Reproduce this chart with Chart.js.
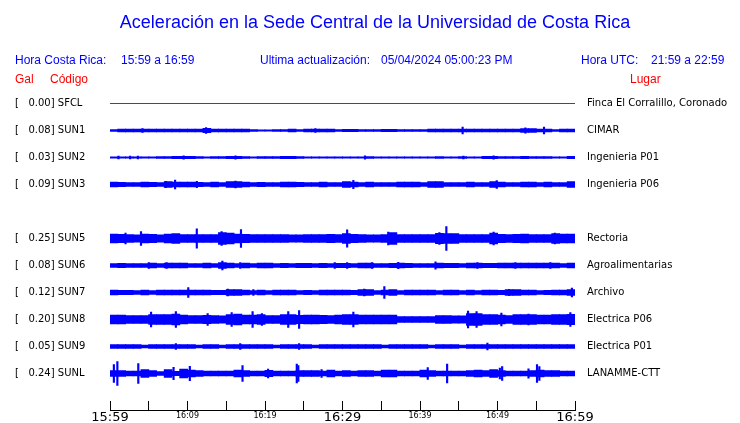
<!DOCTYPE html>
<html>
<head>
<meta charset="utf-8">
<script src="https://cdn.jsdelivr.net/npm/chart.js@4.4.0/dist/chart.umd.min.js"></script>
<style>html,body{margin:0;background:#fff}</style>
</head>
<body>
<canvas id="myChart" width="740" height="423"></canvas>
<script>
// stations, top to bottom (row 4 is empty in the original plot)
const codes  = ['SFCL', 'SUN1', 'SUN2', 'SUN3', '', 'SUN5', 'SUN6', 'SUN7', 'SUN8', 'SUN9', 'SUNL'];
const gal    = ['0.00', '0.08', '0.03', '0.09', '', '0.25', '0.08', '0.12', '0.20', '0.05', '0.24'];
const places = ['Finca El Corralillo, Coronado', 'CIMAR', 'Ingenieria P01', 'Ingenieria P06', '',
  'Rectoria', 'Agroalimentarias', 'Archivo', 'Electrica P06', 'Electrica P01', 'LANAMME-CTT'];

// x axis: minutes after 15:59, a tick every 5 minutes
const tickLabels = ['15:59', '', '16:09', '', '16:19', '', '16:29', '', '16:39', '', '16:49', '', '16:59'];

// SFCL is flat for the whole hour
const sfcl = [0, 0];

// trace envelopes: half amplitude per minute (0..59), plus narrow peaks [minute, half amplitude]
const sun1 = [0.8,1.3,1.3,1.3,1.5,1.3,1.3,1.3,1.3,1.3, 1.3,1.3,2.2,1.5,1.3,1.5,1.3,1.3,1.0,0.7,
  0.7,1.0,1.0,1.3,1.0,1.3,1.5,1.3,1.3,1.0, 1.2,1.2,0.8,0.8,0.8,1.2,1.2,1.0,1.0,1.0,
  1.0,1.3,1.3,1.3,1.3,1.3,1.3,1.3,1.3,1.3, 1.3,1.3,1.3,2.0,2.0,1.3,1.3,1.0,1.5,1.5];
const sun1Peaks = [[4.2,2.0],[12.4,2.8],[26.5,2.0],[45.5,3.3],[53.6,2.6],[56.0,3.5]];

const sun2 = [0.6,0.6,0.6,0.6,0.6,0.6,1.0,1.0,1.2,1.2, 1.2,1.0,0.6,1.0,1.0,1.2,1.2,1.0,0.6,1.0,
  1.0,1.0,1.2,1.2,0.8,0.6,0.6,0.6,0.6,0.6, 0.6,0.6,0.6,0.8,0.6,0.6,0.6,0.6,0.6,0.6,
  0.6,0.6,1.0,0.6,0.6,0.8,0.6,0.6,1.2,1.2, 1.0,0.8,1.0,1.2,1.0,0.8,1.0,0.6,0.6,1.2];
const sun2Peaks = [[1.1,1.4],[2.6,1.4],[3.6,1.3],[9.5,1.6],[16.2,1.6],[32.9,1.6],[45.6,1.4],[49.5,1.6]];

const sun3 = [2.5,2.2,1.8,1.8,2.5,2.2,2.0,2.8,2.5,2.5, 2.5,2.2,1.8,2.5,1.8,2.8,2.8,2.5,1.8,2.2,
  1.8,1.8,2.5,2.5,2.2,1.8,1.8,2.5,1.8,1.8, 2.8,2.5,1.8,2.5,1.8,1.8,1.8,2.5,2.5,2.5,
  1.8,2.8,2.8,2.0,1.8,1.8,2.5,1.8,2.0,2.8, 2.5,1.8,1.8,2.5,2.5,1.8,2.5,2.0,1.8,2.8];
const sun3Peaks = [[7.2,3.2],[8.4,4.5],[11.2,3.2],[16.2,3.3],[31.4,4.2],[49.9,4.0]];

const sun5 = [4.5,4.2,4.0,3.7,4.5,4.2,3.7,4.5,5.0,4.0, 3.8,3.8,3.8,3.8,6.0,5.5,4.5,4.2,3.8,3.8,
  3.8,3.8,4.0,3.6,3.6,3.8,4.0,4.0,4.2,4.0, 4.8,4.2,3.8,3.6,3.6,3.8,6.0,4.0,3.8,3.8,
  3.8,4.0,5.2,5.0,4.8,3.8,3.8,4.0,3.8,5.5, 4.2,4.0,4.2,4.5,4.0,4.0,4.0,5.0,4.5,4.5];
const sun5Peaks = [[2.0,5.5],[4.0,7.0],[11.2,9.7],[14.4,6.8],[16.9,9.0],[30.6,8.7],[35.9,6.5],
  [42.5,6.0],[43.4,11.8],[49.5,6.5],[57.4,5.5]];

const sun6 = [1.8,2.2,1.8,1.8,1.8,2.3,1.8,2.3,2.3,2.3, 1.8,1.8,2.3,1.8,2.8,2.3,1.8,2.3,1.8,2.3,
  2.3,1.8,2.2,1.8,2.2,2.2,1.8,2.2,1.8,2.2, 2.2,1.8,2.3,2.3,1.8,1.8,2.2,2.5,2.2,1.8,
  1.8,1.8,2.5,2.2,2.2,1.8,2.5,2.5,2.2,2.2, 2.5,2.5,2.5,2.3,2.3,2.3,2.5,2.5,1.8,2.3];
const sun6Peaks = [[5.0,2.8],[7.3,3.0],[14.5,4.3],[16.8,3.0],[29.0,2.8],[30.6,2.8],[33.8,2.8],
  [37.2,3.2],[42.0,3.6],[47.4,3.0],[52.3,3.0],[56.8,2.8]];

const sun7 = [2.5,2.2,2.2,2.0,2.5,1.8,2.5,2.5,2.5,2.5, 2.5,2.5,2.5,2.2,2.2,3.0,2.8,2.5,2.0,2.5,
  1.8,2.5,2.5,2.5,2.0,2.2,2.0,2.5,2.5,2.5, 2.5,2.2,3.0,3.0,2.0,2.5,2.8,2.0,2.5,2.5,
  2.5,2.5,2.0,2.5,2.5,2.0,2.5,2.0,2.5,2.5, 2.2,3.0,2.8,2.5,2.5,2.0,2.2,2.5,2.5,2.8];
const sun7Peaks = [[10.1,4.8],[15.2,3.3],[18.5,3.0],[32.8,3.5],[35.4,5.8],[51.5,3.2],[59.6,4.5]];

const sun8 = [4.5,4.5,4.0,4.0,4.0,4.8,4.8,5.0,5.5,4.5, 4.0,4.0,4.2,4.0,3.7,5.0,5.5,4.5,4.5,4.8,
  4.0,4.0,5.0,5.0,4.2,4.5,4.5,4.2,4.0,4.5, 5.0,4.8,4.5,4.5,4.5,4.3,4.3,3.0,3.0,3.0,
  3.0,3.0,4.0,4.0,3.7,3.7,6.0,6.0,5.0,5.0, 4.5,4.0,5.0,5.0,4.8,4.5,4.5,5.0,5.0,5.2];
const sun8Peaks = [[5.3,7.3],[8.5,8.0],[12.6,5.8],[15.7,6.8],[18.4,8.0],[19.6,6.0],[23.0,8.0],
  [24.4,9.0],[31.4,7.5],[46.2,8.3],[47.3,7.8],[50.5,6.5],[54.0,5.5],[59.4,7.0]];

const sun9 = [1.8,1.8,1.8,1.8,1.5,1.8,1.8,1.8,2.0,1.8, 1.8,1.5,1.8,1.8,1.5,1.8,1.8,1.8,1.8,1.8,
  1.8,1.5,1.8,1.8,1.8,1.8,1.5,1.8,1.8,1.8, 1.8,1.8,1.8,1.8,1.8,1.5,1.8,1.8,1.8,1.8,
  1.8,1.5,1.8,1.8,1.8,1.5,1.8,1.8,1.8,1.8, 1.8,1.8,1.8,1.8,1.8,1.8,1.8,1.8,1.8,1.8];
const sun9Peaks = [[8.5,3.0],[16.8,3.0],[24.4,3.0],[48.7,3.5]];

const sunl = [3.0,3.0,2.5,2.5,4.0,3.0,2.0,4.0,2.2,4.5, 3.5,3.0,2.5,2.3,2.3,2.3,3.5,3.0,2.3,2.3,
  3.2,2.5,2.5,2.5,3.0,3.0,3.0,2.5,3.5,2.5, 3.0,2.5,3.0,3.0,2.5,3.5,3.5,2.5,2.5,2.5,
  3.5,3.0,2.5,2.5,2.5,2.5,3.0,3.5,3.0,4.0, 3.0,2.5,2.5,2.5,3.0,3.5,3.0,3.0,2.5,2.5];
const sunlPeaks = [[0.5,9.0],[0.95,12.0],[3.65,10.0],[8.2,6.2],[10.3,7.2],[17.1,7.8],[20.4,4.5],
  [24.1,9.3],[24.3,8.0],[27.3,4.0],[41.0,6.0],[43.5,9.3],[50.3,5.5],[50.6,7.0],[54.0,4.7],
  [55.1,9.0],[55.4,7.0]];

const traces = [null, [sun1, sun1Peaks], [sun2, sun2Peaks], [sun3, sun3Peaks], null,
  [sun5, sun5Peaks], [sun6, sun6Peaks], [sun7, sun7Peaks], [sun8, sun8Peaks], [sun9, sun9Peaks], [sunl, sunlPeaks]];

const ROW = 27;
const BLUE = '#0000ff';
const title = 'Aceleración en la Sede Central de la Universidad de Costa Rica';

const datasets = [{
  type: 'line',
  data: sfcl.map((v, i) => ({ x: i * 60, y: v })),
  borderColor: '#ff0000',
  borderWidth: 1,
  pointRadius: 0
}];
traces.forEach((t, i) => {
  if (!t) return;
  const c = i * ROW;
  datasets.push({
    type: 'bar', stack: 'all', barThickness: 8, backgroundColor: BLUE, borderWidth: 0,
    data: t[0].map((a, m) => ({ x: m + 0.5, y: [c - a, c + a] }))
  });
  datasets.push({
    type: 'bar', stack: 'all', barThickness: 1.5, backgroundColor: BLUE, borderWidth: 0,
    data: t[1].map(p => ({ x: p[0], y: [c - p[1], c + p[1]] }))
  });
});

const rowTicks = axis => {
  axis.ticks = codes.map((c, i) => c ? { value: i * ROW } : null).filter(Boolean);
};

const header = {
  id: 'header',
  afterDraw(chart) {
    const c = chart.ctx;
    c.save();
    c.textBaseline = 'middle';
    c.fillStyle = BLUE;
    c.textAlign = 'center';
    c.font = '18px "Liberation Sans", Arial, sans-serif';
    c.fillText(title, 375, 23);
    c.textAlign = 'left';
    c.font = '12px "Liberation Sans", Arial, sans-serif';
    c.fillText('Hora Costa Rica:', 15, 61);
    c.fillText('15:59 a 16:59', 121, 61);
    c.fillText('Ultima actualización:', 260, 61);
    c.fillText('05/04/2024 05:00:23 PM', 381, 61);
    c.fillText('Hora UTC:', 581, 61);
    c.fillText('21:59 a 22:59', 651, 61);
    c.fillStyle = '#ff0000';
    c.fillText('Gal', 15, 80);
    c.fillText('Código', 50, 80);
    c.fillText('Lugar', 630, 80);
    c.restore();
  }
};

const ctx = document.getElementById('myChart');

new Chart(ctx, {
  type: 'bar',
  data: { datasets },
  options: {
    responsive: false,
    animation: false,
    layout: { padding: { left: 15, right: 0, top: 89.5, bottom: 0 } },
    plugins: { legend: { display: false }, tooltip: { enabled: false } },
    scales: {
      x: {
        type: 'linear', min: 0, max: 60, offset: false,
        grid: { offset: false, drawOnChartArea: false, tickLength: -9, color: '#000' },
        border: { color: '#000' },
        ticks: {
          stepSize: 5, autoSkip: false, maxRotation: 0, padding: 8, color: '#000',
          callback: v => tickLabels[Math.round(v / 5)],
          font: c => (c.tick && c.tick.value % 30 === 0)
            ? { family: 'DejaVu Sans', size: 13, lineHeight: 1.35 }
            : { family: 'DejaVu Sans', size: 8, lineHeight: 1.8 }
        },
        afterFit: s => { s.height = 13; }
      },
      y: {
        type: 'linear', reverse: true, min: -14, max: 306.5, stacked: false, position: 'left',
        grid: { display: false, drawTicks: false }, border: { display: false },
        afterBuildTicks: rowTicks,
        ticks: {
          autoSkip: false, crossAlign: 'far', color: '#000',
          font: { family: 'DejaVu Sans', size: 10 },
          callback: v => { const i = Math.round(v / ROW); return '[   ' + gal[i] + '] ' + codes[i]; }
        },
        afterFit: s => { s.width = 95; s.paddingTop = 0; s.paddingBottom = 0; }
      },
      y2: {
        type: 'linear', reverse: true, min: -14, max: 306.5, position: 'right',
        grid: { display: false, drawTicks: false }, border: { display: false },
        afterBuildTicks: rowTicks,
        ticks: {
          autoSkip: false, padding: 12, color: '#000',
          font: { family: 'DejaVu Sans', size: 10 },
          callback: v => places[Math.round(v / ROW)]
        },
        afterFit: s => { s.width = 165; s.paddingTop = 0; s.paddingBottom = 0; }
      }
    }
  },
  plugins: [header]
});
</script>
</body>
</html>
